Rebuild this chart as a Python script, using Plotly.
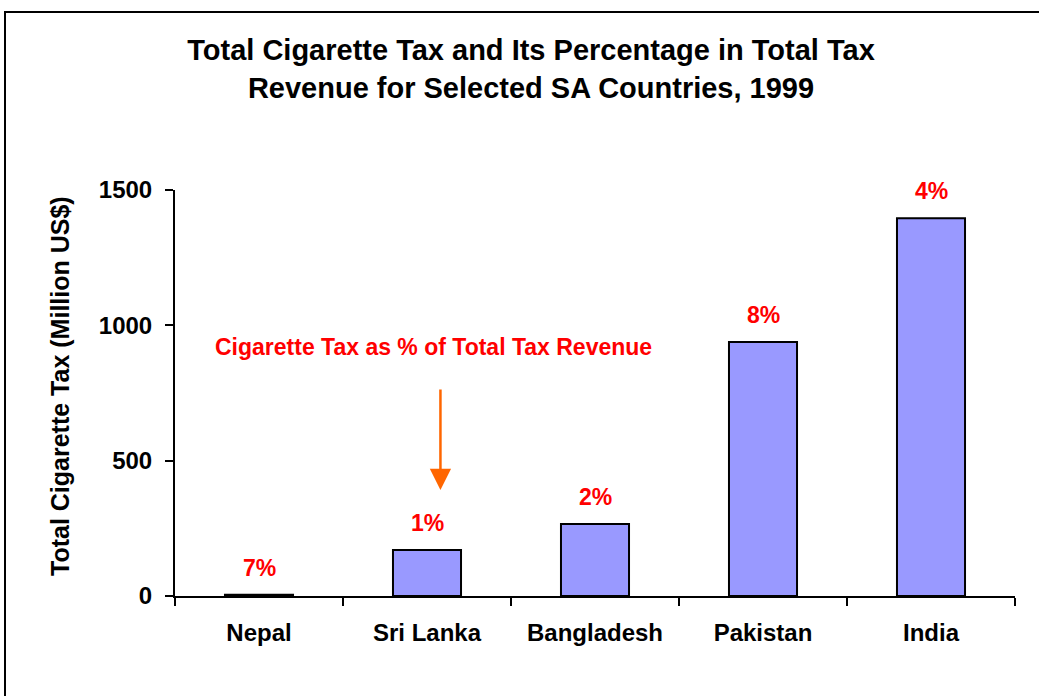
import plotly.graph_objects as go

countries = ["Nepal", "Sri Lanka", "Bangladesh", "Pakistan", "India"]
cig_tax = [5, 170, 266, 938, 1396]
pct_labels = ["7%", "1%", "2%", "8%", "4%"]
y_ticks = [0, 500, 1000, 1500]

FONT = "Arial, Liberation Sans, Helvetica, sans-serif"

fig = go.Figure()
fig.add_trace(go.Bar(
    x=countries, y=cig_tax, width=0.405,
    marker=dict(color="#9999FF", line=dict(color="black", width=2)),
    hoverinfo="skip", showlegend=False,
))

annotations = []
for c, v, t in zip(countries, cig_tax, pct_labels):
    annotations.append(dict(
        x=c, y=v, xref="x", yref="y", text=t, showarrow=False,
        yanchor="middle", yshift=27,
        font=dict(family=FONT, size=23, color="#FF0000", weight="bold"),
    ))

annotations.append(dict(
    x=1.04, y=920, xref="x", yref="y",
    text="Cigarette Tax as % of Total Tax Revenue", showarrow=False,
    font=dict(family=FONT, size=23, color="#FF0000", weight="bold"),
))
annotations.append(dict(
    x=1.08, y=392, xref="x", yref="y", text="",
    showarrow=True, ax=0, ay=-102, axref="pixel", ayref="pixel",
    arrowcolor="#FF6600", arrowwidth=2.5, arrowhead=2, arrowsize=1.7,
))
annotations.append(dict(
    x=(60 - 175) / 840, y=(596 - 386) / 406, xref="paper", yref="paper",
    xanchor="center", yanchor="middle",
    text="Total Cigarette Tax (Million US$)", textangle=-90, showarrow=False,
    font=dict(family=FONT, size=25, color="black", weight="bold"),
))

fig.update_layout(
    width=1039, height=696,
    margin=dict(l=175, r=24, t=190, b=100, autoexpand=False),
    paper_bgcolor="white", plot_bgcolor="white",
    title=dict(
        text="Total Cigarette Tax and Its Percentage in Total Tax<br>Revenue for Selected SA Countries, 1999",
        x=531 / 1039, xanchor="center", xref="container",
        y=1 - 60 / 696, yanchor="middle", yref="container",
        font=dict(family=FONT, size=29, color="black", weight="bold"),
    ),
    annotations=annotations,
    shapes=[dict(
        type="rect", xref="paper", yref="paper",
        x0=(5 - 175) / 840, x1=1.2, y0=-0.5, y1=(596 - 12) / 406,
        line=dict(color="black", width=2), fillcolor="rgba(0,0,0,0)", layer="below",
    )],
    bargap=0.595,
)

fig.update_xaxes(
    type="category", range=[-0.5, 4.5], tickson="boundaries",
    ticks="outside", ticklen=8, tickwidth=2, tickcolor="black",
    showline=True, linecolor="black", linewidth=2, showgrid=False,
    tickfont=dict(family=FONT, size=24, color="black", weight="bold"),
    ticklabelstandoff=14, automargin=False,
)
fig.update_yaxes(
    range=[0, 1500], tickvals=y_ticks,
    ticks="outside", ticklen=8, tickwidth=2, tickcolor="black",
    showline=True, linecolor="black", linewidth=2, showgrid=False, zeroline=False,
    tickfont=dict(family=FONT, size=24, color="black", weight="bold"),
    ticklabelstandoff=8, automargin=False,
)

fig.write_html("out.html")
